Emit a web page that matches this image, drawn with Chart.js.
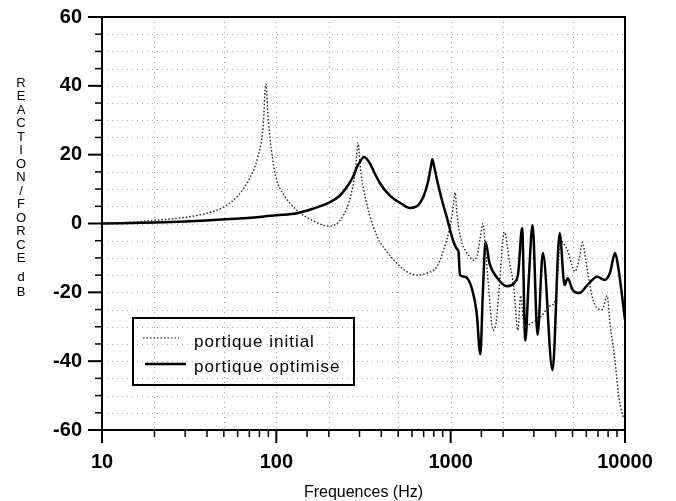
<!DOCTYPE html>
<html>
<head>
<meta charset="utf-8">
<script src="https://cdn.jsdelivr.net/npm/chart.js@4.4.1/dist/chart.umd.min.js"></script>
<style>
    body { margin: 0; background: #fff; }
    canvas { display: block; }
</style>
</head>
<body>
<canvas id="reactionChart" width="676" height="501"></canvas>
<script>
// portique initial (dotted)
const freqInitial = [10, 15, 20, 30, 40, 50, 60, 70, 78, 84, 87, 90, 95, 100, 110, 130, 160, 200, 240, 270, 285, 294, 305, 315, 345, 380, 420, 490, 560, 640, 720, 835, 920, 980, 1030, 1060, 1090, 1150, 1220, 1290, 1340, 1420, 1480, 1530, 1580, 1650, 1750, 1820, 1900, 2030, 2180, 2300, 2430, 2520, 2650, 2900, 3300, 3700, 4000, 4150, 4240, 4400, 4700, 4950, 5150, 5450, 5700, 5950, 6460, 6900, 7400, 7900, 8200, 8770, 9140, 9600, 10000];
const dbInitial = [0, 0.4, 0.9, 1.8, 3, 4.8, 8, 13, 19, 28, 40.5, 30, 19, 13, 8.5, 4, 1, -0.8, 2, 9, 16, 23.5, 15, 10.5, 2, -4, -7.5, -11.5, -14, -15, -14.5, -12.5, -7, -2, 4, 9, 2, -5, -8, -9.7, -10.7, -9.2, -4, 0, -6.8, -18.5, -31, -29, -18.5, -2.5, -11.5, -18.5, -31, -21, -30, -29, -27, -24, -22, -12, -4.5, -5.5, -8, -12, -14, -10.5, -5.5, -10.5, -21, -24.5, -25, -21, -29, -40, -49, -55, -57];

// portique optimise (solid)
const freqOptim = [10, 20, 30, 54, 80, 100, 131, 160, 203, 230, 254, 275, 290, 305, 318, 330, 344, 370, 393, 450, 520, 583, 640, 700, 740, 770, 785, 800, 850, 900, 960, 1030, 1090, 1110, 1130, 1210, 1330, 1410, 1480, 1530, 1585, 1670, 1830, 2100, 2340, 2440, 2570, 2680, 2800, 2950, 3150, 3380, 3840, 4220, 4500, 4690, 5010, 5480, 6080, 6920, 7650, 8190, 8770, 9140, 10000];
const dbOptim = [0, 0.3, 0.6, 1.3, 1.9, 2.4, 3, 4.2, 6.2, 8, 10.6, 13.5, 16.4, 18.3, 19.3, 18.8, 17.5, 14.2, 11.7, 8, 5.8, 4.5, 5, 8, 12, 16.5, 18.7, 17, 11, 6, 1, -4.8, -7.5, -8.3, -15, -15.5, -19.3, -26, -38, -20, -5.4, -11.5, -15.5, -18.2, -17, -14.4, -1.3, -34, -17, -0.4, -32.4, -8.6, -42.6, -2.8, -17.9, -15.9, -19.3, -20.2, -17.9, -15.5, -16.4, -14.4, -8.6, -12.6, -28];

const seriesLabels = ["portique initial", "portique optimise"];
const yTitleLetters = ["R", "E", "A", "C", "T", "I", "O", "N", "/", "F", "O", "R", "C", "E"];
const yTitleUnit = ["d", "B"];
const xTitle = "Frequences (Hz)";
const gridFreqs = [20, 50, 100, 200, 500, 1000, 2000, 5000];

const FONT = "'Liberation Sans', Arial, sans-serif";

const toPoints = (xs, ys) => xs.map((f, i) => ({ x: f, y: ys[i] }));

const decor = {
    id: "decor",
    beforeDatasetsDraw(chart) {
        const { ctx, chartArea: a, scales: { x, y } } = chart;
        ctx.save();
        ctx.strokeStyle = "rgba(0,0,0,0.35)";
        ctx.lineWidth = 1;
        ctx.setLineDash([1, 4]);
        for (let v = -55; v < 60; v += 5) {
            const py = Math.round(y.getPixelForValue(v)) + 0.5;
            ctx.beginPath();
            ctx.moveTo(a.left, py);
            ctx.lineTo(a.right, py);
            ctx.stroke();
        }
        gridFreqs.forEach(f => {
            const px = Math.round(x.getPixelForValue(f)) + 0.5;
            ctx.beginPath();
            ctx.moveTo(px, a.top);
            ctx.lineTo(px, a.bottom);
            ctx.stroke();
        });
        ctx.restore();
    },
    afterDraw(chart) {
        const { ctx, chartArea: a, scales: { x, y } } = chart;
        ctx.save();
        ctx.strokeStyle = "#000";
        ctx.lineWidth = 2;
        ctx.strokeRect(a.left, a.top, a.right - a.left, a.bottom - a.top);

        // x ticks (outside, down)
        x.ticks.forEach(t => {
            const lg = Math.log10(t.value);
            const major = Math.abs(lg - Math.round(lg)) < 1e-9;
            const px = x.getPixelForValue(t.value);
            ctx.lineWidth = major ? 2 : 1.5;
            ctx.beginPath();
            ctx.moveTo(px, a.bottom);
            ctx.lineTo(px, a.bottom + (major ? 13 : 7));
            ctx.stroke();
        });
        // y ticks (outside, left)
        for (let v = -60; v <= 60; v += 5) {
            const major = v % 20 === 0;
            const py = y.getPixelForValue(v);
            ctx.lineWidth = major ? 2 : 1.5;
            ctx.beginPath();
            ctx.moveTo(a.left, py);
            ctx.lineTo(a.left - (major ? 14 : 7), py);
            ctx.stroke();
        }

        // y title, stacked letters
        ctx.fillStyle = "#000";
        ctx.font = "13px " + FONT;
        ctx.textAlign = "center";
        ctx.textBaseline = "middle";
        yTitleLetters.forEach((ch, i) => ctx.fillText(ch, 21, 83 + i * 13.5));
        ctx.fillText(yTitleUnit[0], 21, 277);
        ctx.fillText(yTitleUnit[1], 21, 292);

        // x title
        ctx.font = "16px " + FONT;
        ctx.fillText(xTitle, (a.left + a.right) / 2, 493);

        // legend box
        ctx.lineWidth = 2;
        ctx.strokeRect(133, 318, 221, 67);
        ctx.lineWidth = 1.2;
        ctx.setLineDash([1.5, 2]);
        ctx.beginPath();
        ctx.moveTo(143, 338);
        ctx.lineTo(179, 338);
        ctx.stroke();
        ctx.setLineDash([]);
        ctx.lineWidth = 2.5;
        ctx.beginPath();
        ctx.moveTo(145, 364);
        ctx.lineTo(186, 364);
        ctx.stroke();
        ctx.font = "17px " + FONT;
        ctx.textAlign = "left";
        ctx.textBaseline = "alphabetic";
        if ("letterSpacing" in ctx) ctx.letterSpacing = "1px";
        ctx.fillText(seriesLabels[0], 194, 347);
        ctx.fillText(seriesLabels[1], 194, 372);
        ctx.restore();
    }
};

document.addEventListener("DOMContentLoaded", () => {
    const ctx = document.getElementById("reactionChart").getContext("2d");
    new Chart(ctx, {
        type: "line",
        data: {
            datasets: [{
                label: seriesLabels[0],
                data: toPoints(freqInitial, dbInitial),
                borderColor: "#222",
                borderWidth: 1.4,
                borderDash: [1.5, 2],
                pointRadius: 0,
                cubicInterpolationMode: "monotone",
                fill: false
            }, {
                label: seriesLabels[1],
                data: toPoints(freqOptim, dbOptim),
                borderColor: "#000",
                borderWidth: 2.5,
                pointRadius: 0,
                cubicInterpolationMode: "monotone",
                fill: false
            }]
        },
        options: {
            responsive: false,
            animation: false,
            layout: { padding: { top: 17, right: 51, left: 0, bottom: 0 } },
            plugins: { legend: { display: false }, tooltip: { enabled: false } },
            scales: {
                x: {
                    type: "logarithmic",
                    min: 10,
                    max: 10000,
                    grid: { display: false, drawTicks: false },
                    border: { display: false },
                    afterFit: s => { s.height = 71; s.paddingLeft = 0; s.paddingRight = 0; },
                    ticks: {
                        autoSkip: false,
                        maxRotation: 0,
                        padding: 20,
                        color: "#000",
                        font: { family: FONT, size: 20, weight: "bold" },
                        callback: v => {
                            const lg = Math.log10(v);
                            return Math.abs(lg - Math.round(lg)) < 1e-9 ? String(v) : "";
                        }
                    }
                },
                y: {
                    min: -60,
                    max: 60,
                    grid: { display: false, drawTicks: false },
                    border: { display: false },
                    afterFit: s => { s.width = 102; s.paddingTop = 0; s.paddingBottom = 0; },
                    ticks: {
                        stepSize: 20,
                        padding: 20,
                        color: "#000",
                        font: { family: FONT, size: 20, weight: "bold" }
                    }
                }
            }
        },
        plugins: [decor]
    });
});
</script>
</body>
</html>
